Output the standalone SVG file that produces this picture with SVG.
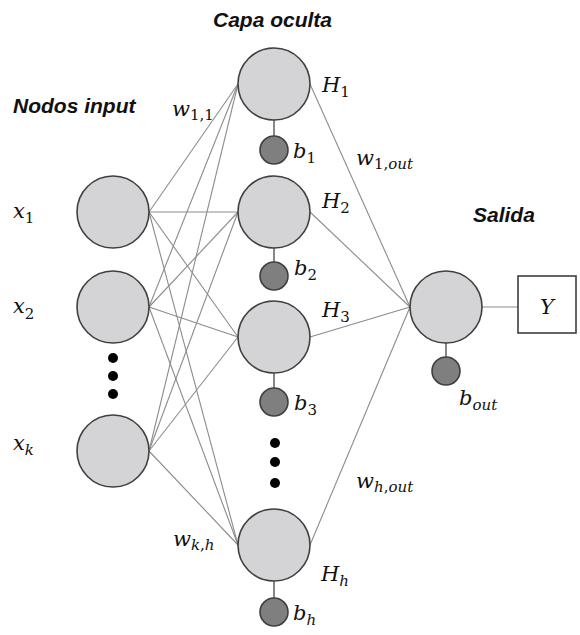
<svg xmlns="http://www.w3.org/2000/svg" width="580" height="635" viewBox="0 0 580 635">
<style>
.node{fill:#d4d3d5;stroke:#3f3f3f;stroke-width:1.6}
.bias{fill:#7f7f7f;stroke:#3f3f3f;stroke-width:1.6}
.w{stroke:#8c8c8c;stroke-width:1.1;fill:none}
.stem{stroke:#6a6a6a;stroke-width:1.6}
.dot{fill:#000}
.head{font-family:"Liberation Sans",Arial,sans-serif;font-weight:bold;font-style:italic;font-size:21px;fill:#111}
.m{font-family:"DejaVu Serif",serif;font-style:italic;font-size:21px;fill:#111}
.s{font-size:15px}
.u{font-style:normal}
</style>
<rect width="580" height="635" fill="#fff"/>
<g id="connectors">
<line class="w" x1="149" y1="212" x2="238" y2="84"/>
<line class="w" x1="149" y1="212" x2="238" y2="212"/>
<line class="w" x1="149" y1="212" x2="238" y2="337"/>
<line class="w" x1="149" y1="212" x2="238" y2="545"/>
<line class="w" x1="149" y1="307" x2="238" y2="84"/>
<line class="w" x1="149" y1="307" x2="238" y2="212"/>
<line class="w" x1="149" y1="307" x2="238" y2="337"/>
<line class="w" x1="149" y1="307" x2="238" y2="545"/>
<line class="w" x1="149" y1="451" x2="238" y2="84"/>
<line class="w" x1="149" y1="451" x2="238" y2="212"/>
<line class="w" x1="149" y1="451" x2="238" y2="337"/>
<line class="w" x1="149" y1="451" x2="238" y2="545"/>
<line class="w" x1="310" y1="84" x2="410" y2="307"/>
<line class="w" x1="310" y1="212" x2="410" y2="307"/>
<line class="w" x1="310" y1="337" x2="410" y2="307"/>
<line class="w" x1="310" y1="545" x2="410" y2="307"/>
<line class="w" x1="482" y1="307" x2="518" y2="307"/>
<line class="stem" x1="274" y1="120" x2="274" y2="136"/>
<line class="stem" x1="274" y1="248" x2="274" y2="262"/>
<line class="stem" x1="274" y1="373" x2="274" y2="388"/>
<line class="stem" x1="274" y1="581" x2="274" y2="598"/>
<line class="stem" x1="446" y1="343" x2="446" y2="357"/>
</g>
<g id="x1"><circle class="node" cx="113" cy="212" r="36"/></g>
<g id="x2"><circle class="node" cx="113" cy="307" r="36"/></g>
<g id="input-dots"><circle class="dot" cx="113" cy="358" r="5"/><circle class="dot" cx="113" cy="376" r="5"/><circle class="dot" cx="113" cy="394" r="5"/></g>
<g id="xk"><circle class="node" cx="113" cy="451" r="36"/></g>
<g id="H1"><circle class="node" cx="274" cy="84" r="36"/></g>
<g id="b1"><circle class="bias" cx="274" cy="150" r="14"/></g>
<g id="H2"><circle class="node" cx="274" cy="212" r="36"/></g>
<g id="b2"><circle class="bias" cx="274" cy="276" r="14"/></g>
<g id="H3"><circle class="node" cx="274" cy="337" r="36"/></g>
<g id="b3"><circle class="bias" cx="274" cy="402" r="14"/></g>
<g id="hidden-dots"><circle class="dot" cx="275" cy="443" r="5"/><circle class="dot" cx="275" cy="462" r="5"/><circle class="dot" cx="275" cy="483" r="5"/></g>
<g id="Hh"><circle class="node" cx="274" cy="545" r="36"/></g>
<g id="bh"><circle class="bias" cx="274" cy="612" r="14"/></g>
<g id="out"><circle class="node" cx="446" cy="307" r="36"/></g>
<g id="bout"><circle class="bias" cx="446" cy="371" r="14"/></g>
<g id="Y"><rect x="518" y="276" width="58" height="57" fill="#fff" stroke="#3f3f3f" stroke-width="1.6"/><text class="m" x="547" y="314" text-anchor="middle">Y</text></g>
<g id="labels">
<text class="head" x="213" y="27">Capa oculta</text>
<text class="head" x="13" y="113">Nodos input</text>
<text class="head" x="473" y="222">Salida</text>
<text class="m" x="13" y="218">x<tspan class="s u" dy="5">1</tspan></text>
<text class="m" x="13" y="313">x<tspan class="s u" dy="6">2</tspan></text>
<text class="m" x="13" y="450">x<tspan class="s" dy="5">k</tspan></text>
<text class="m" x="172" y="116">w<tspan class="s u" dy="4">1,1</tspan></text>
<text class="m" x="322" y="92">H<tspan class="s u" dy="5">1</tspan></text>
<text class="m" x="293" y="158">b<tspan class="s u" dy="5">1</tspan></text>
<text class="m" x="356" y="165">w<tspan class="s u" dy="4">1,</tspan><tspan class="s">out</tspan></text>
<text class="m" x="322" y="208">H<tspan class="s u" dy="5">2</tspan></text>
<text class="m" x="294" y="275">b<tspan class="s u" dy="5">2</tspan></text>
<text class="m" x="322" y="317">H<tspan class="s u" dy="5">3</tspan></text>
<text class="m" x="294" y="410">b<tspan class="s u" dy="5">3</tspan></text>
<text class="m" x="459" y="405">b<tspan class="s" dy="5">out</tspan></text>
<text class="m" x="356" y="488">w<tspan class="s" dy="4">h</tspan><tspan class="s u">,</tspan><tspan class="s">out</tspan></text>
<text class="m" x="173" y="546">w<tspan class="s" dy="4">k</tspan><tspan class="s u">,</tspan><tspan class="s">h</tspan></text>
<text class="m" x="321" y="581">H<tspan class="s" dy="5">h</tspan></text>
<text class="m" x="293" y="620">b<tspan class="s" dy="5">h</tspan></text>
</g>
</svg>
